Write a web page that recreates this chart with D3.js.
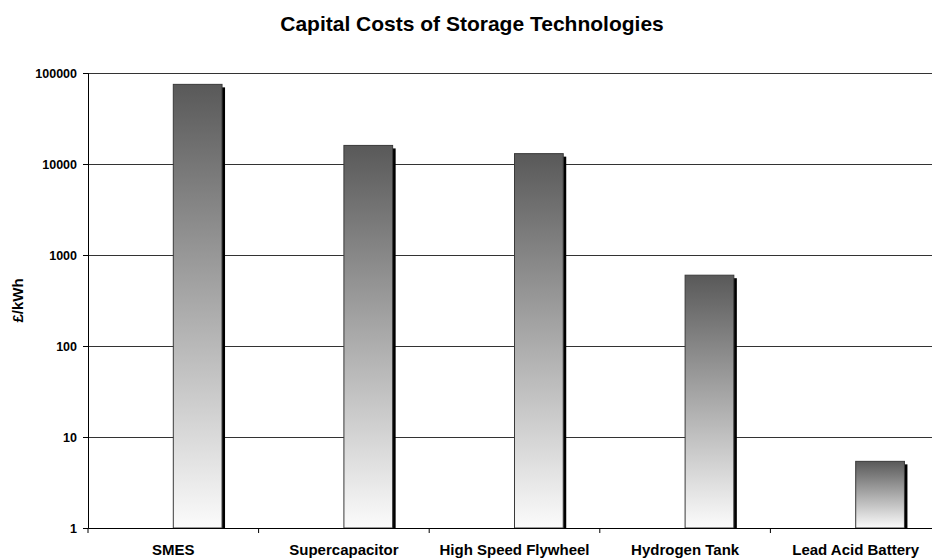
<!DOCTYPE html>
<meta charset="utf-8">
<style>
    body { margin: 0; background: #fff; }
    svg { font-family: "Liberation Sans", Arial, sans-serif; font-weight: bold; }
    .grid line { stroke: #333; stroke-width: 1px; }
    .axis path, .axis line { stroke: #000; }
    .axis text { font-size: 12.5px; fill: #000; }
</style>

<svg width="932" height="559"></svg>
<script src="https://d3js.org/d3.v7.min.js"></script>
<script>

    var categories = ["SMES", "Supercapacitor", "High Speed Flywheel", "Hydrogen Tank", "Lead Acid Battery"];
    var series = ["(empty)", "Capital cost"];
    var emptyValues = [null, null, null, null, null];
    var costValues = [75000, 16000, 13000, 600, 5.4];
    var yTicks = [1, 10, 100, 1000, 10000, 100000];

    var margin = { left: 88, top: 73, right: -9, bottom: 31 };
    var svg = d3.select("svg");
    var width = 932 - margin.left - margin.right;
    var height = 559 - margin.top - margin.bottom;

    var defs = svg.append("defs");
    var grad = defs.append("linearGradient")
        .attr("id", "barGrad")
        .attr("x1", 0).attr("y1", 0).attr("x2", 0).attr("y2", 1);
    grad.append("stop").attr("offset", "0%").attr("stop-color", "#595959");
    grad.append("stop").attr("offset", "100%").attr("stop-color", "#fbfbfb");

    svg.append("text")
        .attr("x", 472)
        .attr("y", 31)
        .attr("text-anchor", "middle")
        .style("font-size", "21px")
        .text("Capital Costs of Storage Technologies");

    var g = svg.append("g")
        .attr("transform", "translate(" + margin.left + "," + margin.top + ")");

    var x = d3.scaleBand()
        .domain(categories)
        .range([0, width]);

    var y = d3.scaleLog()
        .domain([1, 100000])
        .range([height, 0]);

    g.append("g")
        .attr("class", "grid")
        .call(d3.axisLeft(y).tickValues(yTicks.slice(1)).tickSize(-width).tickFormat(""))
        .call(function (s) { s.select(".domain").remove(); });

    var data = categories.map(function (c, i) {
        return [{ s: series[0], v: emptyValues[i] }, { s: series[1], v: costValues[i] }];
    });

    // two series per category, first one has no data (Excel gap width 150%)
    var bw = x.bandwidth() / 3.5;
    var cat = g.selectAll(".cat")
        .data(data)
        .enter().append("g")
        .attr("transform", function (d, i) { return "translate(" + x(categories[i]) + ",0)"; });

    var bars = cat.selectAll(".bar")
        .data(function (d) { return d.filter(function (e) { return e.v != null; }); })
        .enter().append("g");

    function barX(d) { return bw * 0.75 + series.indexOf(d.s) * bw; }

    bars.append("rect")
        .attr("x", function (d) { return barX(d) + 3; })
        .attr("y", function (d) { return y(d.v) + 3; })
        .attr("width", bw)
        .attr("height", function (d) { return height - y(d.v) - 3; })
        .attr("fill", "#000");

    bars.append("rect")
        .attr("x", barX)
        .attr("y", function (d) { return y(d.v); })
        .attr("width", bw)
        .attr("height", function (d) { return height - y(d.v); })
        .attr("fill", "url(#barGrad)")
        .attr("stroke", "#3a3a3a")
        .attr("stroke-width", 1);

    g.append("g")
        .attr("class", "axis")
        .call(d3.axisLeft(y).tickValues(yTicks).tickSize(5).tickPadding(6).tickFormat(d3.format("d")));

    var xAxis = g.append("g")
        .attr("class", "axis")
        .attr("transform", "translate(0," + height + ")")
        .call(d3.axisBottom(x).tickSize(0).tickPadding(16.5));
    xAxis.selectAll("text").style("font-size", "15px");

    xAxis.selectAll(".sep")
        .data(categories.slice(1))
        .enter().append("line")
        .attr("x1", function (d) { return x(d); })
        .attr("x2", function (d) { return x(d); })
        .attr("y1", 0).attr("y2", 5)
        .attr("stroke", "#000");
    xAxis.append("line")
        .attr("x1", 0).attr("x2", 0).attr("y1", 0).attr("y2", 5).attr("stroke", "#000");

    svg.append("text")
        .attr("transform", "translate(23," + (margin.top + height / 2) + ") rotate(-90)")
        .attr("text-anchor", "middle")
        .style("font-size", "15px")
        .text("£/kWh");

</script>
